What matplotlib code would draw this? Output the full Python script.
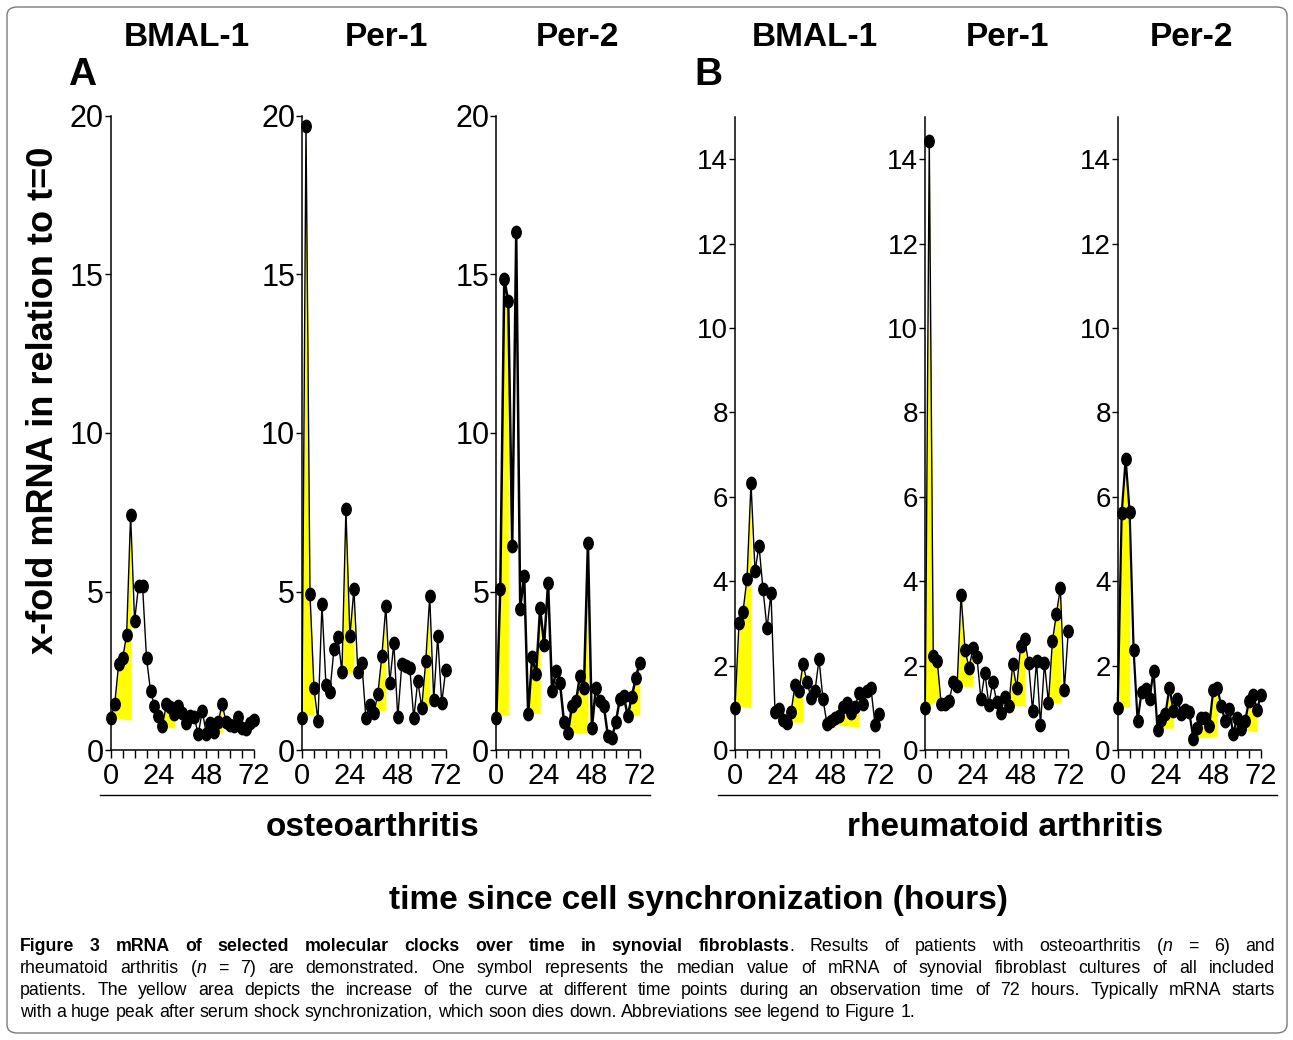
import numpy as np
import matplotlib
matplotlib.use("Agg")
import matplotlib.pyplot as plt
from matplotlib.markers import MarkerStyle
from matplotlib.transforms import Affine2D
from matplotlib.patches import FancyBboxPatch
from matplotlib.lines import Line2D

# sampling times (hours since synchronization)
HOURS = [0, 2, 4, 6, 8, 10, 12, 14, 16, 18, 20, 22, 24, 26, 28, 30, 32, 34, 36,
         38, 40, 42, 44, 46, 48, 50, 52, 54, 56, 58, 60, 62, 64, 66, 68, 70, 72]

# median x-fold mRNA, osteoarthritis
OA_BMAL1 = [1.0, 1.44, 2.72, 2.89, 3.63, 7.42, 4.08, 5.18, 5.18, 2.89, 1.87, 1.38, 1.08,
            0.77, 1.45, 1.37, 1.13, 1.38, 1.17, 0.85, 1.08, 1.03, 0.49, 1.24, 0.52, 0.85,
            0.56, 0.87, 1.45, 0.87, 0.80, 0.77, 1.03, 0.68, 0.66, 0.85, 0.96]
OA_PER1 = [1.0, 19.7, 4.93, 1.95, 0.92, 4.59, 2.05, 1.84, 3.18, 3.56, 2.45, 7.59, 3.59,
           5.07, 2.45, 2.74, 1.01, 1.42, 1.16, 1.76, 2.96, 4.53, 2.12, 3.37, 1.03, 2.70,
           2.66, 2.60, 1.00, 2.18, 1.34, 2.81, 4.85, 1.58, 3.59, 1.48, 2.52]
OA_PER2 = [1.0, 5.09, 14.85, 14.16, 6.42, 16.33, 4.46, 5.5, 1.13, 2.92, 2.4, 4.48, 3.31,
           5.28, 1.85, 2.5, 2.1, 0.88, 0.55, 1.4, 1.53, 2.34, 1.96, 6.54, 0.7, 1.96,
           1.53, 1.39, 0.45, 0.37, 0.87, 1.6, 1.7, 1.07, 1.67, 2.27, 2.76]

# median x-fold mRNA, rheumatoid arthritis
RA_BMAL1 = [1.0, 3.01, 3.28, 4.06, 6.33, 4.24, 4.84, 3.81, 2.88, 3.72, 0.91, 0.98, 0.72,
            0.64, 0.89, 1.53, 1.40, 2.03, 1.62, 1.23, 1.40, 2.15, 1.20, 0.62, 0.69, 0.75,
            0.81, 1.02, 1.11, 0.88, 1.03, 1.35, 1.10, 1.40, 1.46, 0.60, 0.85]
RA_PER1 = [1.0, 14.44, 2.22, 2.12, 1.08, 1.08, 1.17, 1.60, 1.51, 3.68, 2.38, 1.94, 2.41,
           2.21, 1.20, 1.83, 1.07, 1.61, 1.13, 0.88, 1.26, 1.04, 2.03, 1.47, 2.47, 2.63,
           2.07, 0.93, 2.10, 0.60, 2.07, 1.12, 2.58, 3.22, 3.84, 1.43, 2.82]
RA_PER2 = [1.0, 5.61, 6.9, 5.64, 2.36, 0.69, 1.38, 1.45, 1.21, 1.88, 0.48, 0.70, 0.86,
           1.48, 0.93, 1.20, 0.86, 0.94, 0.89, 0.26, 0.52, 0.76, 0.77, 0.56, 1.42, 1.48,
           1.05, 0.69, 0.98, 0.39, 0.75, 0.49, 0.68, 1.17, 1.31, 0.95, 1.31]

# yellow "increase" areas: (start h, end h, baseline at start, baseline at end)
OA_BMAL1_AREAS = [(0, 10, 1.0, 0.95), (26, 32, 0.72, 0.70), (48, 56, 0.56, 0.56)]
OA_PER1_AREAS = [(0, 6, 1.1, 1.1), (20, 26, 2.45, 2.45), (36, 42, 1.25, 1.25), (60, 64, 1.4, 1.4)]
OA_PER2_AREAS = [(0, 6, 1.1, 1.1), (16, 22, 1.15, 1.15), (36, 46, 0.55, 0.55), (66, 72, 1.1, 1.1)]
RA_BMAL1_AREAS = [(0, 8, 1.03, 1.03), (28, 34, 0.66, 0.66), (48, 62, 0.60, 0.55)]
RA_PER1_AREAS = [(0, 8, 1.0, 1.25), (16, 24, 1.51, 1.51), (42, 50, 1.05, 1.05), (62, 68, 1.12, 1.12)]
RA_PER2_AREAS = [(0, 6, 1.02, 1.02), (22, 28, 0.52, 0.52), (38, 50, 0.27, 0.33), (64, 70, 0.47, 0.43)]

GENES = ["BMAL-1", "Per-1", "Per-2"]

W, H = 1293, 1040
FONT = "Liberation Sans"

plt.rcParams['font.family'] = [FONT, 'DejaVu Sans']
fig = plt.figure(figsize=(W / 100, H / 100), dpi=100)

def fx(px):
    return px / W

def fy(py):
    return 1 - py / H

# rounded frame around the whole figure
fig.patches.append(FancyBboxPatch((fx(7), fy(1033)), fx(1280), 1026 / H,
                                  boxstyle="round,pad=0,rounding_size=0.008",
                                  transform=fig.transFigure, fill=False,
                                  edgecolor="#7a7a7a", linewidth=1.0))

dot = MarkerStyle('o', transform=Affine2D().scale(0.8, 1.05))

def panel(left, right, top, vals, areas, ymax, yticks, ysize, lw):
    bottom = 750
    ax = fig.add_axes([fx(left), fy(bottom), fx(right - left), (bottom - top) / H])
    t = np.array(HOURS, dtype=float)
    v = np.array(vals, dtype=float)
    for t0, t1, b0, b1 in areas:
        sel = (t >= t0) & (t <= t1)
        xs = t[sel]
        ys = v[sel]
        base = b0 + (b1 - b0) * (xs - t0) / (t1 - t0)
        ax.fill_between(xs, base, ys, where=ys >= base, interpolate=True,
                        color="#ffff00", linewidth=0, zorder=1)
    ax.plot(t, v, color="black", lw=lw, marker=dot, ms=8.5, zorder=3, clip_on=False)
    ax.set_xlim(0, 72)
    ax.set_ylim(0, ymax)
    ax.set_xticks([0, 24, 48, 72])
    ax.set_xticks(range(0, 73, 6), minor=True)
    ax.set_yticks(yticks)
    for s in ("top", "right"):
        ax.spines[s].set_visible(False)
    for s in ("left", "bottom"):
        ax.spines[s].set_linewidth(1.1)
    ax.tick_params(axis='x', which='both', direction='out', length=6, width=1.0,
                   labelsize=21, pad=3)
    ax.tick_params(axis='y', direction='out', length=4, width=1.0, labelsize=ysize, pad=1)
    ax.patch.set_alpha(0)
    return ax

OA = [(110.7, 254, OA_BMAL1, OA_BMAL1_AREAS), (302, 445.7, OA_PER1, OA_PER1_AREAS),
      (496.3, 639.7, OA_PER2, OA_PER2_AREAS)]
RA = [(735, 879, RA_BMAL1, RA_BMAL1_AREAS), (925.3, 1068.3, RA_PER1, RA_PER1_AREAS),
      (1117.7, 1261, RA_PER2, RA_PER2_AREAS)]

for left, right, vals, areas in OA:
    lw = 1.8 if vals is OA_PER2 else 1.0
    panel(left, right, 116, vals, areas, 20, [0, 5, 10, 15, 20], 22, lw)
for left, right, vals, areas in RA:
    lw = 1.6 if vals is RA_PER2 else 1.0
    panel(left, right, 117, vals, areas, 15, [0, 2, 4, 6, 8, 10, 12, 14], 20, lw)

# gene titles and panel letters
for cx, g in zip([187, 386, 578, 815, 1007, 1192], GENES * 2):
    fig.text(fx(cx), fy(37), g, ha='center', va='center', fontsize=24, fontweight='bold')
fig.text(fx(68), fy(75), "A", ha='left', va='center', fontsize=28, fontweight='bold')
fig.text(fx(694), fy(75), "B", ha='left', va='center', fontsize=28, fontweight='bold')

fig.text(fx(44), fy(400), "x-fold mRNA in relation to t=0", rotation=90, ha='center',
         va='center', fontsize=26, fontweight='bold')

# group lines and labels
fig.add_artist(Line2D([fx(100), fx(650)], [fy(795), fy(795)], color='black', lw=1.0))
fig.add_artist(Line2D([fx(718), fx(1277)], [fy(795), fy(795)], color='black', lw=1.0))
fig.text(fx(373), fy(828), "osteoarthritis", ha='center', va='center', fontsize=24,
         fontweight='bold')
fig.text(fx(1005), fy(828), "rheumatoid arthritis", ha='center', va='center', fontsize=24,
         fontweight='bold')
fig.text(fx(698), fy(900), "time since cell synchronization (hours)", ha='center',
         va='center', fontsize=24, fontweight='bold')

# caption, justified word by word
CAPTION = [
    [("Figure 3 mRNA of selected molecular clocks over time in synovial fibroblasts", "b"),
     (". Results of patients with osteoarthritis (", "r"), ("n", "i"), (" = 6) and", "r")],
    [("rheumatoid arthritis (", "r"), ("n", "i"),
     (" = 7) are demonstrated. One symbol represents the median value of mRNA of synovial "
      "fibroblast cultures of all included", "r")],
    [("patients. The yellow area depicts the increase of the curve at different time points "
      "during an observation time of 72 hours. Typically mRNA starts", "r")],
    [("with a huge peak after serum shock synchronization, which soon dies down. "
      "Abbreviations see legend to Figure 1.", "r")],
]
renderer = fig.canvas.get_renderer()
CAP_SIZE = 12.8
CAP_LEFT, CAP_RIGHT = 20, 1275

def style(kind):
    return dict(fontsize=CAP_SIZE, family=[FONT, 'DejaVu Sans'],
                fontweight='bold' if kind == 'b' else 'normal',
                fontstyle='italic' if kind == 'i' else 'normal')

def width(txt, kind):
    t = fig.text(0, 0, txt, **style(kind))
    w = t.get_window_extent(renderer).width
    t.remove()
    return w

space_w = width("x x", "r") - width("xx", "r")
for li, segs in enumerate(CAPTION):
    words = [[]]
    for txt, kind in segs:
        parts = txt.split(' ')
        for k, p in enumerate(parts):
            if k > 0:
                words.append([])
            if p:
                words[-1].append((p, kind))
    words = [w for w in words if w]
    widths = [[width(p, kd) for p, kd in w] for w in words]
    total = sum(sum(ws) for ws in widths)
    if li < len(CAPTION) - 1:
        gap = max((CAP_RIGHT - CAP_LEFT - total) / (len(words) - 1), 0.5 * space_w)
    else:
        gap = space_w
    x = CAP_LEFT
    base_y = 951 + li * 22
    for w, ws in zip(words, widths):
        for (p, kd), pw in zip(w, ws):
            fig.text(fx(x), fy(base_y), p, va='baseline', ha='left', **style(kd))
            x += pw
        x += gap

fig.savefig("out.png", dpi=100)
